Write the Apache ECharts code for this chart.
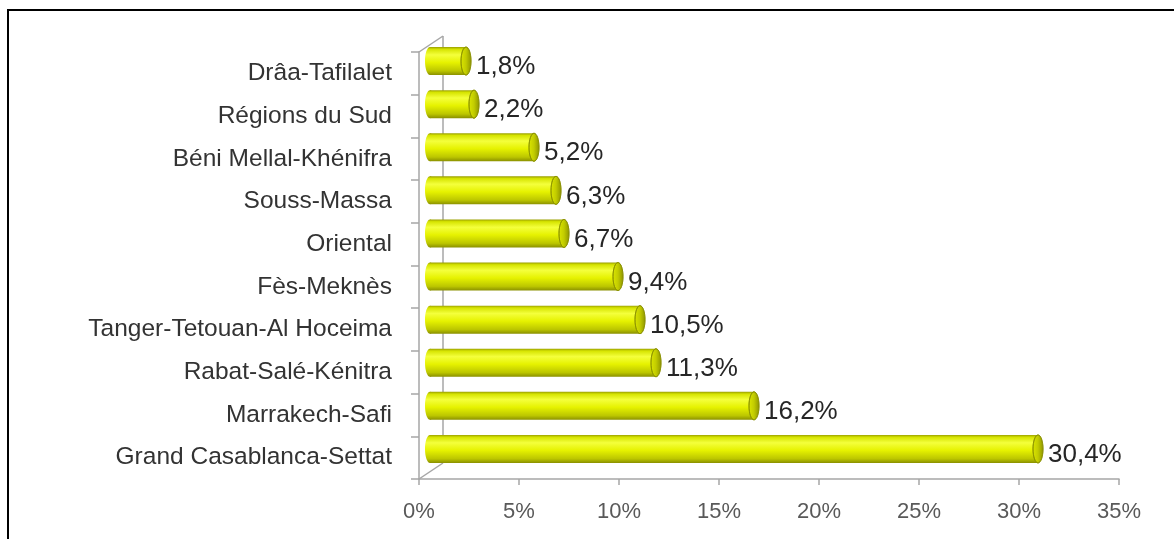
<!DOCTYPE html>
<html>
<head>
<meta charset="utf-8">
<script src="https://cdn.jsdelivr.net/npm/echarts@6/dist/echarts.min.js"></script>
<style>
  html, body { margin: 0; padding: 0; background: #fff; }
  #chart { width: 1174px; height: 539px; }
</style>
</head>
<body>
<div id="chart"></div>
<script>
// catégories (de haut en bas)
const regions = [
  "Drâa-Tafilalet",
  "Régions du Sud",
  "Béni Mellal-Khénifra",
  "Souss-Massa",
  "Oriental",
  "Fès-Meknès",
  "Tanger-Tetouan-Al Hoceima",
  "Rabat-Salé-Kénitra",
  "Marrakech-Safi",
  "Grand Casablanca-Settat"
];
// parts en %
const shares = [1.8, 2.2, 5.2, 6.3, 6.7, 9.4, 10.5, 11.3, 16.2, 30.4];
// graduations de l'axe x
const xTicks = [0, 5, 10, 15, 20, 25, 30, 35];

const chart = echarts.init(document.getElementById("chart"));
const axisGray = "#a6a6a6";
const depth = [24, -16]; // décalage du mur du fond

// dégradé du cylindre (vertical)
const bodyColor = new echarts.graphic.LinearGradient(0, 0, 0, 1, [
  { offset: 0, color: "#9a9f00" },
  { offset: 0.08, color: "#d6e400" },
  { offset: 0.28, color: "#f4ff3c" },
  { offset: 0.55, color: "#e6f200" },
  { offset: 0.85, color: "#bcc600" },
  { offset: 1, color: "#8a9000" }
]);
const capColor = new echarts.graphic.LinearGradient(0, 0, 1, 0, [
  { offset: 0, color: "#dbe600" },
  { offset: 0.5, color: "#c2cc00" },
  { offset: 1, color: "#8e9400" }
]);

function renderCylinder(params, api) {
  const idx = api.value(0);
  const val = api.value(1);
  const start = api.coord([0, idx]);
  const end = api.coord([val, idx]);
  const h = api.size([0, 1])[1] * 0.65;
  const ry = h / 2;
  const rx = 5;
  const y = start[1];
  return {
    type: "group",
    children: [
      {
        type: "ellipse",
        shape: { cx: start[0], cy: y, rx: rx, ry: ry },
        style: { fill: bodyColor }
      },
      {
        type: "rect",
        shape: { x: start[0], y: y - ry, width: end[0] - start[0], height: h },
        style: { fill: bodyColor }
      },
      {
        type: "ellipse",
        shape: { cx: end[0], cy: y, rx: rx, ry: ry },
        style: { fill: capColor, stroke: "#8a9000", lineWidth: 0.8 }
      },
      {
        type: "text",
        style: {
          x: end[0] + rx + 5,
          y: y + 6,
          text: String(val).replace(".", ",") + "%",
          fill: "#262626",
          font: "26px 'Liberation Sans', Arial, sans-serif",
          verticalAlign: "middle",
          align: "left"
        }
      }
    ]
  };
}

const option = {
  animation: false,
  backgroundColor: "#fff",
  grid: [
    { left: 419, right: 55, top: 52, bottom: 60 },   // plan avant (axes)
    { left: 430, right: 44, top: 39.5, bottom: 68.5 } // plan des barres
  ],
  xAxis: [
    {
      gridIndex: 0,
      type: "value",
      min: xTicks[0],
      max: xTicks[xTicks.length - 1],
      interval: 5,
      axisLine: { show: true, lineStyle: { color: axisGray, width: 1.5 } },
      axisTick: { show: true, length: 6, lineStyle: { color: axisGray, width: 1.5 } },
      splitLine: { show: false },
      axisLabel: {
        formatter: "{value}%",
        color: "#595959",
        fontFamily: "Liberation Sans",
        fontSize: 22,
        margin: 22
      }
    },
    {
      gridIndex: 1,
      type: "value",
      min: 0,
      max: 35,
      show: false
    }
  ],
  yAxis: [
    {
      gridIndex: 0,
      type: "category",
      inverse: true,
      data: regions,
      axisLine: { show: true, lineStyle: { color: axisGray, width: 1.5 } },
      axisTick: { show: true, length: 8, inside: false, lineStyle: { color: axisGray, width: 1.5 } },
      axisLabel: {
        color: "#333333",
        fontFamily: "Liberation Sans",
        fontSize: 24.5,
        margin: 27
      }
    },
    {
      gridIndex: 1,
      type: "category",
      inverse: true,
      data: regions,
      show: false
    }
  ],
  series: [
    {
      type: "custom",
      xAxisIndex: 1,
      yAxisIndex: 1,
      renderItem: renderCylinder,
      encode: { x: 1, y: 0 },
      data: shares.map((v, i) => [i, v]),
      z: 5
    }
  ]
};
chart.setOption(option);

// cadre 3D (mur du fond) calé sur l'axe avant
const gridRect = chart.getModel().getComponent("grid", 0).coordinateSystem.getRect();
const fx = gridRect.x, fTop = gridRect.y, fBot = gridRect.y + gridRect.height;
const lineStyle = { stroke: axisGray, lineWidth: 1.5 };
chart.setOption({
  graphic: [
    {
      type: "rect",
      shape: { x: 8, y: 10, width: 1200, height: 600 },
      style: { fill: "none", stroke: "#000", lineWidth: 2 },
      z: 100
    },
    {
      type: "line",
      shape: { x1: fx + depth[0], y1: fTop + depth[1], x2: fx + depth[0], y2: fBot + depth[1] },
      style: lineStyle, z: 1
    },
    {
      type: "line",
      shape: { x1: fx, y1: fTop, x2: fx + depth[0], y2: fTop + depth[1] },
      style: lineStyle, z: 1
    },
    {
      type: "line",
      shape: { x1: fx, y1: fBot, x2: fx + depth[0], y2: fBot + depth[1] },
      style: lineStyle, z: 1
    }
  ]
});
</script>
</body>
</html>
